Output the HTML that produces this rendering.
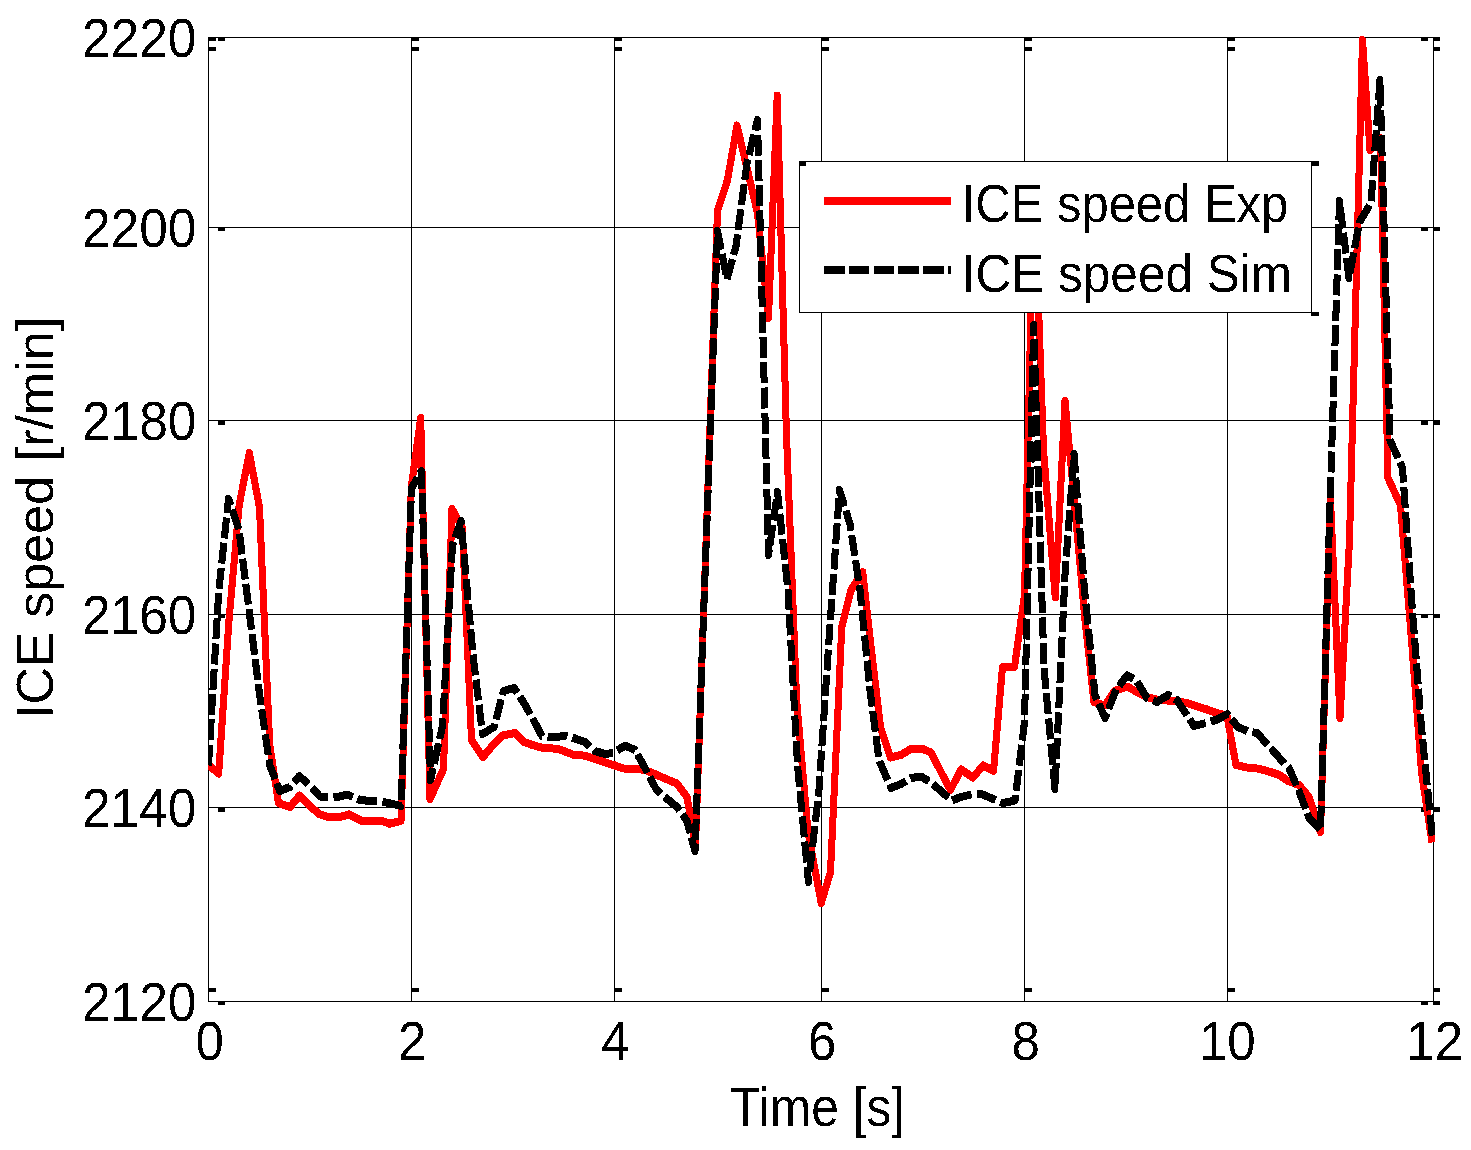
<!DOCTYPE html>
<html lang="en"><head><meta charset="utf-8"><title>ICE speed</title>
<style>
html,body{margin:0;padding:0;background:#fff;}
body{width:1471px;height:1150px;overflow:hidden;}
svg{display:block;}
text{font-family:"Liberation Sans",Arial,Helvetica,sans-serif;fill:#000;}
</style></head><body>
<svg width="1471" height="1150" viewBox="0 0 1471 1150">
<rect x="0" y="0" width="1471" height="1150" fill="#fff"/>
<defs><filter id="hard" filterUnits="userSpaceOnUse" x="0" y="0" width="1471" height="1150" color-interpolation-filters="sRGB"><feComponentTransfer><feFuncA type="discrete" tableValues="0 1"/></feComponentTransfer></filter></defs>
<g fill="#000" shape-rendering="crispEdges">
<rect x="411" y="37" width="1" height="965"/>
<rect x="614" y="37" width="1" height="965"/>
<rect x="821" y="37" width="1" height="965"/>
<rect x="1024" y="37" width="1" height="965"/>
<rect x="1227" y="37" width="1" height="965"/>
<rect x="208" y="227" width="1226" height="1"/>
<rect x="208" y="420" width="1226" height="1"/>
<rect x="208" y="614" width="1226" height="1"/>
<rect x="208" y="807" width="1226" height="1"/>
<rect x="208" y="37" width="1226" height="1"/>
<rect x="208" y="1001" width="1226" height="1"/>
<rect x="208" y="37" width="1" height="965"/>
<rect x="1433" y="37" width="1" height="965"/>
<rect x="208" y="37" width="8" height="4"/>
<rect x="208" y="47" width="8" height="4"/>
<rect x="208" y="988" width="8" height="4"/>
<rect x="411" y="37" width="8" height="4"/>
<rect x="411" y="47" width="8" height="4"/>
<rect x="411" y="988" width="8" height="4"/>
<rect x="614" y="37" width="8" height="4"/>
<rect x="614" y="47" width="8" height="4"/>
<rect x="614" y="988" width="8" height="4"/>
<rect x="821" y="37" width="8" height="4"/>
<rect x="821" y="47" width="8" height="4"/>
<rect x="821" y="988" width="8" height="4"/>
<rect x="1024" y="37" width="8" height="4"/>
<rect x="1024" y="47" width="8" height="4"/>
<rect x="1024" y="988" width="8" height="4"/>
<rect x="1227" y="37" width="8" height="4"/>
<rect x="1227" y="47" width="8" height="4"/>
<rect x="1227" y="988" width="8" height="4"/>
<rect x="1433" y="37" width="7" height="4"/>
<rect x="1433" y="47" width="7" height="4"/>
<rect x="1433" y="988" width="7" height="4"/>
<rect x="1433" y="1001" width="7" height="4"/>
<rect x="218" y="37" width="7" height="4"/>
<rect x="218" y="1001" width="7" height="4"/>
<rect x="1421" y="37" width="7" height="4"/>
<rect x="1421" y="1001" width="7" height="4"/>
<rect x="218" y="227" width="7" height="4"/>
<rect x="1421" y="227" width="7" height="4"/>
<rect x="1433" y="227" width="7" height="4"/>
<rect x="218" y="420" width="7" height="5"/>
<rect x="1421" y="420" width="7" height="5"/>
<rect x="1433" y="420" width="7" height="5"/>
<rect x="218" y="614" width="7" height="4"/>
<rect x="1421" y="614" width="7" height="4"/>
<rect x="1433" y="614" width="7" height="4"/>
<rect x="218" y="807" width="7" height="5"/>
<rect x="1421" y="807" width="7" height="5"/>
<rect x="1433" y="807" width="7" height="5"/>
</g>
<clipPath id="pc"><rect x="208" y="35" width="1227" height="966"/></clipPath>
<g clip-path="url(#pc)"><g transform="translate(0,-0.5)" fill="none" stroke-linejoin="round" shape-rendering="crispEdges">
<polyline stroke="#ff0000" stroke-width="7.0" points="208.5,765.0 218.7,773.5 229.0,620.0 239.2,505.0 249.3,453.0 259.5,507.5 269.7,745.0 278.5,803.0 290.0,807.0 299.5,795.6 310.0,806.0 319.0,814.0 328.0,817.0 340.0,817.0 349.0,814.4 361.0,820.6 371.0,820.6 381.0,820.6 389.5,823.7 401.0,821.0 411.3,487.0 420.7,418.0 430.0,799.0 443.5,769.0 452.0,509.0 462.3,528.0 471.5,740.0 483.0,757.0 493.0,745.0 502.5,735.5 515.0,733.0 523.7,742.0 534.0,745.5 543.0,748.0 557.0,748.7 565.0,751.5 574.0,755.0 585.0,755.6 595.0,759.0 605.0,762.5 615.0,765.5 623.0,768.5 635.0,768.7 645.0,770.0 656.0,774.5 666.0,779.0 677.0,783.5 687.0,797.0 695.5,846.0 706.3,534.0 717.5,211.0 727.5,180.0 737.0,125.5 747.0,168.0 757.5,213.0 768.5,318.0 777.2,95.5 786.4,432.0 796.6,700.0 808.0,832.0 821.2,903.0 830.5,872.0 841.8,627.0 851.0,590.0 862.7,572.0 872.0,655.0 880.5,727.0 890.5,757.5 901.0,755.0 911.0,749.0 923.0,749.0 931.0,752.5 941.0,772.0 950.5,790.0 961.0,769.5 973.0,777.5 983.0,765.5 993.5,771.0 1002.5,667.0 1014.5,667.0 1024.5,595.0 1034.0,175.0 1043.5,450.0 1055.3,597.5 1065.0,401.0 1074.2,500.0 1085.0,620.0 1094.0,702.0 1105.0,705.5 1114.5,691.0 1127.0,686.5 1137.0,692.0 1148.0,697.5 1157.0,699.5 1167.0,700.5 1177.0,701.5 1187.0,703.0 1197.0,706.5 1207.0,709.5 1217.0,713.0 1227.0,716.0 1236.0,765.0 1247.0,767.5 1258.7,768.7 1269.0,771.5 1279.5,775.0 1288.0,781.0 1299.0,785.0 1309.0,797.0 1320.5,832.0 1330.5,500.0 1340.0,718.0 1349.5,540.0 1362.5,40.0 1370.0,150.0 1380.5,138.0 1388.0,478.0 1400.5,505.0 1411.5,640.0 1421.5,772.0 1432.0,842.0"/>
</g></g>
<g clip-path="url(#pc)"><g transform="translate(0,0.5)" fill="none" stroke-linejoin="round" shape-rendering="crispEdges">
<polyline stroke="#ff0000" stroke-width="7.0" points="208.5,765.0 218.7,773.5 229.0,620.0 239.2,505.0 249.3,453.0 259.5,507.5 269.7,745.0 278.5,803.0 290.0,807.0 299.5,795.6 310.0,806.0 319.0,814.0 328.0,817.0 340.0,817.0 349.0,814.4 361.0,820.6 371.0,820.6 381.0,820.6 389.5,823.7 401.0,821.0 411.3,487.0 420.7,418.0 430.0,799.0 443.5,769.0 452.0,509.0 462.3,528.0 471.5,740.0 483.0,757.0 493.0,745.0 502.5,735.5 515.0,733.0 523.7,742.0 534.0,745.5 543.0,748.0 557.0,748.7 565.0,751.5 574.0,755.0 585.0,755.6 595.0,759.0 605.0,762.5 615.0,765.5 623.0,768.5 635.0,768.7 645.0,770.0 656.0,774.5 666.0,779.0 677.0,783.5 687.0,797.0 695.5,846.0 706.3,534.0 717.5,211.0 727.5,180.0 737.0,125.5 747.0,168.0 757.5,213.0 768.5,318.0 777.2,95.5 786.4,432.0 796.6,700.0 808.0,832.0 821.2,903.0 830.5,872.0 841.8,627.0 851.0,590.0 862.7,572.0 872.0,655.0 880.5,727.0 890.5,757.5 901.0,755.0 911.0,749.0 923.0,749.0 931.0,752.5 941.0,772.0 950.5,790.0 961.0,769.5 973.0,777.5 983.0,765.5 993.5,771.0 1002.5,667.0 1014.5,667.0 1024.5,595.0 1034.0,175.0 1043.5,450.0 1055.3,597.5 1065.0,401.0 1074.2,500.0 1085.0,620.0 1094.0,702.0 1105.0,705.5 1114.5,691.0 1127.0,686.5 1137.0,692.0 1148.0,697.5 1157.0,699.5 1167.0,700.5 1177.0,701.5 1187.0,703.0 1197.0,706.5 1207.0,709.5 1217.0,713.0 1227.0,716.0 1236.0,765.0 1247.0,767.5 1258.7,768.7 1269.0,771.5 1279.5,775.0 1288.0,781.0 1299.0,785.0 1309.0,797.0 1320.5,832.0 1330.5,500.0 1340.0,718.0 1349.5,540.0 1362.5,40.0 1370.0,150.0 1380.5,138.0 1388.0,478.0 1400.5,505.0 1411.5,640.0 1421.5,772.0 1432.0,842.0"/>
</g></g>
<g clip-path="url(#pc)"><g transform="translate(0,-0.5)" fill="none" stroke-linejoin="round" shape-rendering="crispEdges">
<polyline stroke="#000" stroke-width="7.0" stroke-dasharray="20 5.3" points="208.5,765.0 218.7,592.0 228.5,499.0 239.0,530.0 249.3,612.0 259.5,694.0 269.7,765.0 279.7,791.0 290.0,787.0 299.4,776.0 310.0,786.0 320.0,796.5 330.0,797.5 340.0,796.5 347.0,794.5 360.0,800.0 371.0,801.0 381.0,801.5 391.0,803.5 401.0,806.0 411.5,488.0 421.5,471.0 430.5,780.0 442.5,726.0 452.5,545.0 461.0,521.0 473.0,655.0 482.5,734.0 494.0,727.0 503.5,691.0 514.0,688.0 524.0,703.0 534.0,721.0 542.0,736.0 555.0,737.5 565.0,735.5 575.0,738.5 585.0,742.0 595.0,751.0 605.0,754.0 613.5,753.0 625.0,745.6 635.0,750.0 645.0,768.0 656.0,789.0 666.0,798.0 677.0,807.0 687.0,821.0 695.0,851.0 706.0,548.0 717.5,231.0 727.0,279.0 736.0,246.0 747.0,163.0 757.5,120.0 768.5,555.0 777.5,492.0 788.0,590.0 797.5,765.0 808.5,882.0 819.0,790.0 829.0,640.0 839.5,490.0 850.0,524.0 860.0,590.0 870.0,690.0 879.0,760.0 891.0,788.0 901.0,784.0 911.0,778.0 921.0,776.5 932.0,783.0 943.0,793.0 952.0,800.5 961.0,797.0 973.0,794.0 983.0,794.5 993.0,799.0 1003.0,803.0 1015.0,800.5 1024.5,722.0 1033.7,325.0 1044.0,668.0 1055.0,789.0 1065.0,575.0 1074.0,454.0 1084.5,590.0 1095.0,695.0 1105.0,718.0 1116.0,690.0 1127.0,675.5 1136.0,680.0 1147.0,698.0 1157.0,702.0 1168.0,695.0 1177.0,700.0 1187.5,716.0 1194.0,726.0 1208.0,722.5 1217.0,719.5 1227.5,714.0 1238.0,727.0 1248.0,731.5 1257.0,733.0 1268.0,745.0 1279.0,757.5 1289.0,768.0 1299.0,791.0 1309.0,818.0 1320.5,830.0 1329.5,520.0 1339.5,201.0 1349.0,278.0 1359.5,222.0 1371.0,203.0 1380.0,80.0 1390.0,440.0 1402.5,468.0 1412.0,605.0 1421.5,728.0 1432.5,838.0"/>
</g></g>
<g clip-path="url(#pc)"><g transform="translate(0,0.5)" fill="none" stroke-linejoin="round" shape-rendering="crispEdges">
<polyline stroke="#000" stroke-width="7.0" stroke-dasharray="20 5.3" points="208.5,765.0 218.7,592.0 228.5,499.0 239.0,530.0 249.3,612.0 259.5,694.0 269.7,765.0 279.7,791.0 290.0,787.0 299.4,776.0 310.0,786.0 320.0,796.5 330.0,797.5 340.0,796.5 347.0,794.5 360.0,800.0 371.0,801.0 381.0,801.5 391.0,803.5 401.0,806.0 411.5,488.0 421.5,471.0 430.5,780.0 442.5,726.0 452.5,545.0 461.0,521.0 473.0,655.0 482.5,734.0 494.0,727.0 503.5,691.0 514.0,688.0 524.0,703.0 534.0,721.0 542.0,736.0 555.0,737.5 565.0,735.5 575.0,738.5 585.0,742.0 595.0,751.0 605.0,754.0 613.5,753.0 625.0,745.6 635.0,750.0 645.0,768.0 656.0,789.0 666.0,798.0 677.0,807.0 687.0,821.0 695.0,851.0 706.0,548.0 717.5,231.0 727.0,279.0 736.0,246.0 747.0,163.0 757.5,120.0 768.5,555.0 777.5,492.0 788.0,590.0 797.5,765.0 808.5,882.0 819.0,790.0 829.0,640.0 839.5,490.0 850.0,524.0 860.0,590.0 870.0,690.0 879.0,760.0 891.0,788.0 901.0,784.0 911.0,778.0 921.0,776.5 932.0,783.0 943.0,793.0 952.0,800.5 961.0,797.0 973.0,794.0 983.0,794.5 993.0,799.0 1003.0,803.0 1015.0,800.5 1024.5,722.0 1033.7,325.0 1044.0,668.0 1055.0,789.0 1065.0,575.0 1074.0,454.0 1084.5,590.0 1095.0,695.0 1105.0,718.0 1116.0,690.0 1127.0,675.5 1136.0,680.0 1147.0,698.0 1157.0,702.0 1168.0,695.0 1177.0,700.0 1187.5,716.0 1194.0,726.0 1208.0,722.5 1217.0,719.5 1227.5,714.0 1238.0,727.0 1248.0,731.5 1257.0,733.0 1268.0,745.0 1279.0,757.5 1289.0,768.0 1299.0,791.0 1309.0,818.0 1320.5,830.0 1329.5,520.0 1339.5,201.0 1349.0,278.0 1359.5,222.0 1371.0,203.0 1380.0,80.0 1390.0,440.0 1402.5,468.0 1412.0,605.0 1421.5,728.0 1432.5,838.0"/>
</g></g>
<g shape-rendering="crispEdges">
<rect x="799.5" y="161.5" width="512" height="151" fill="#fff" stroke="#000" stroke-width="1"/>
<rect x="799" y="161" width="7" height="5" fill="#000"/>
<rect x="1311" y="161" width="8" height="5" fill="#000"/>
<rect x="1311" y="312" width="8" height="4" fill="#000"/>
<rect x="824" y="196.5" width="126.5" height="8" fill="#ff0000"/>
<line x1="824" y1="270" x2="950.5" y2="270" stroke="#000" stroke-width="8" stroke-dasharray="20.6 4.2"/>
</g>
<g filter="url(#hard)">
<text id="lg1" transform="translate(961.7,222.3) scale(0.9276,1)" font-size="52.8">ICE speed Exp</text>
<text id="lg2" transform="translate(961.7,292) scale(0.9386,1)" font-size="52.8">ICE speed Sim</text>
<text class="yt" transform="translate(196.5,56.8) scale(0.928,1)" font-size="55.5" text-anchor="end">2220</text>
<text class="yt" transform="translate(196.5,246.8) scale(0.928,1)" font-size="55.5" text-anchor="end">2200</text>
<text class="yt" transform="translate(196.5,439.8) scale(0.928,1)" font-size="55.5" text-anchor="end">2180</text>
<text class="yt" transform="translate(196.5,633.8) scale(0.928,1)" font-size="55.5" text-anchor="end">2160</text>
<text class="yt" transform="translate(196.5,826.8) scale(0.928,1)" font-size="55.5" text-anchor="end">2140</text>
<text class="yt" transform="translate(196.5,1020.8) scale(0.928,1)" font-size="55.5" text-anchor="end">2120</text>
<text class="xt" transform="translate(209.8,1060) scale(0.92,1)" font-size="55.5" text-anchor="middle">0</text>
<text class="xt" transform="translate(412.3,1060) scale(0.92,1)" font-size="55.5" text-anchor="middle">2</text>
<text class="xt" transform="translate(615.5,1060) scale(0.92,1)" font-size="55.5" text-anchor="middle">4</text>
<text class="xt" transform="translate(822.3,1060) scale(0.92,1)" font-size="55.5" text-anchor="middle">6</text>
<text class="xt" transform="translate(1025.7,1060) scale(0.92,1)" font-size="55.5" text-anchor="middle">8</text>
<text class="xt" transform="translate(1227.3,1060) scale(0.92,1)" font-size="55.5" text-anchor="middle">10</text>
<text class="xt" transform="translate(1434.7,1060) scale(0.92,1)" font-size="55.5" text-anchor="middle">12</text>
<text id="xl" transform="translate(817.7,1126.1) scale(0.895,1)" font-size="55.5" text-anchor="middle">Time [s]</text>
<text id="yl" transform="translate(52.9,517.8) rotate(-90)" font-size="52.1" text-anchor="middle">ICE speed [r/min]</text>
</g>
</svg></body></html>
